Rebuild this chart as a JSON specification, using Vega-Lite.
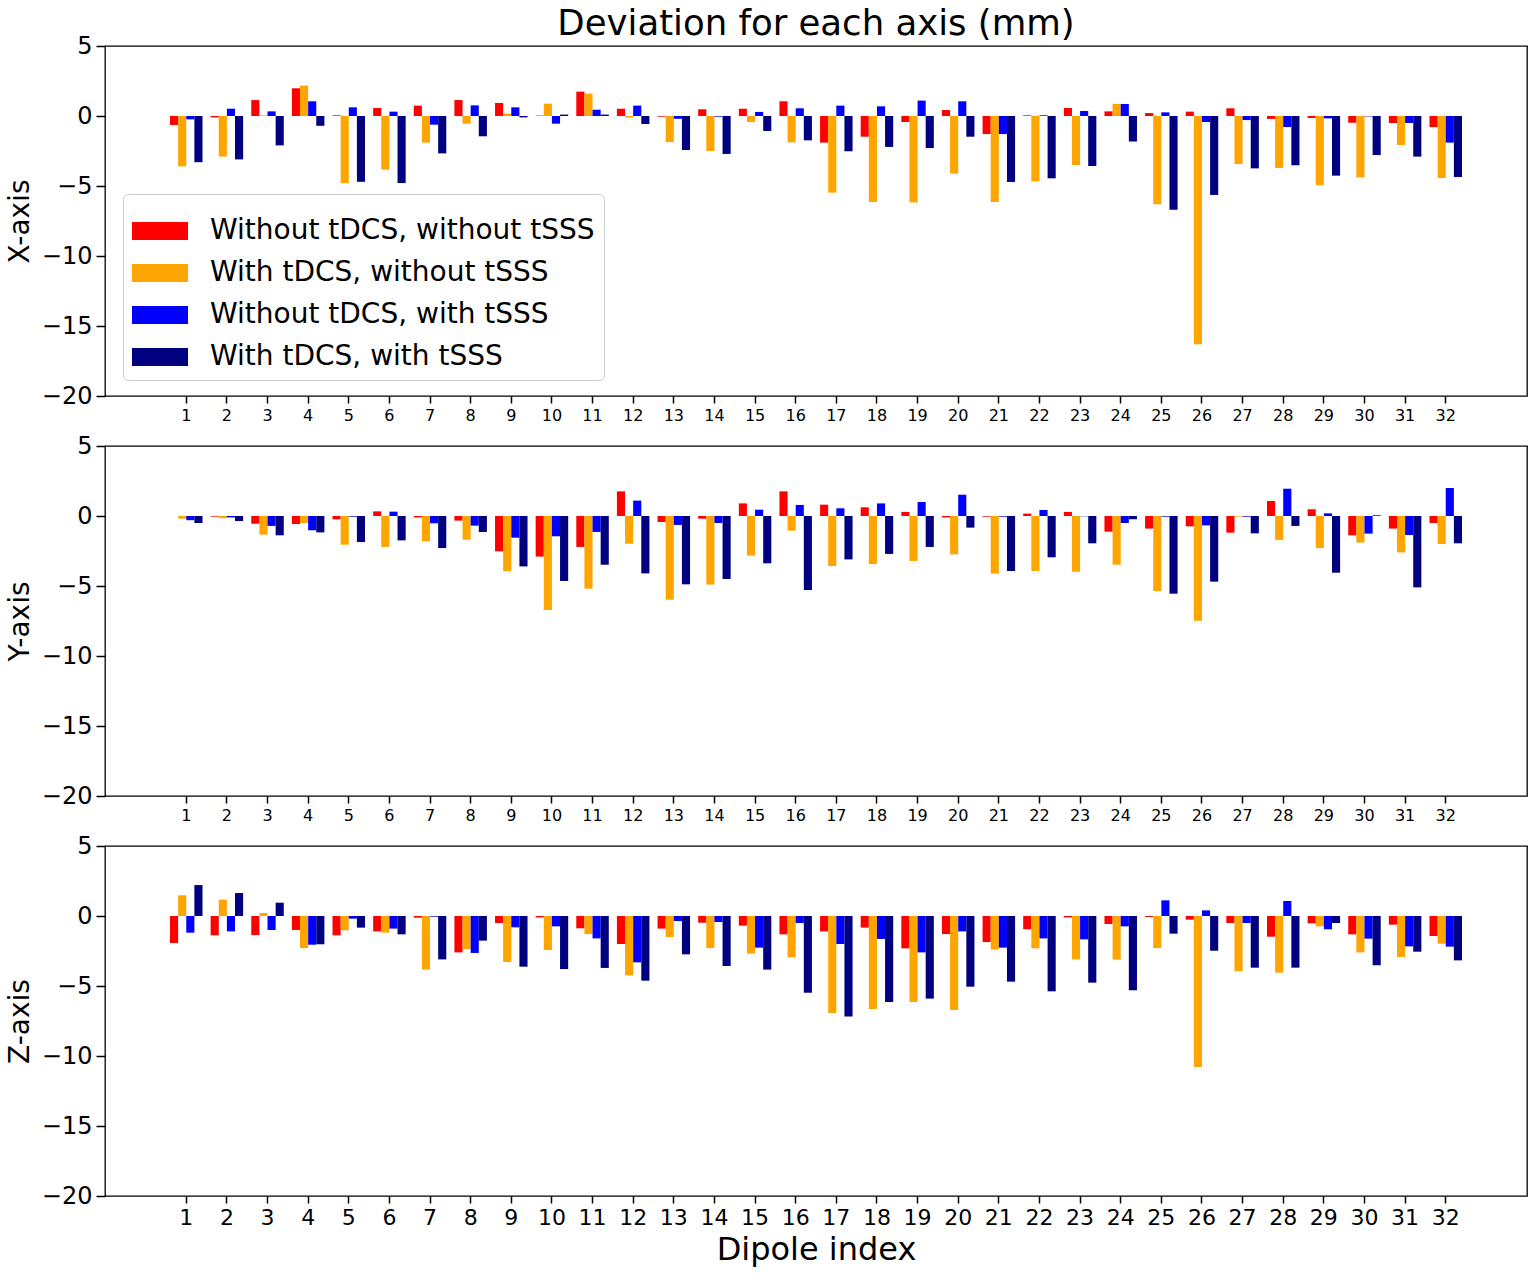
{
"$schema": "https://vega.github.io/schema/vega-lite/v6.json",
"config": {"font": "DejaVu Sans", "view": {"stroke": "#000", "strokeWidth": 1.3}, "axis": {"grid": false, "domain": false, "tickColor": "#000", "labelColor": "#000", "titleColor": "#000", "tickWidth": 1.5, "titleFontWeight": "normal"}},
"datasets": {"dev": [
{"axis":"X","dipole":1,"series":"A","value":-0.64},{"axis":"X","dipole":1,"series":"B","value":-3.6},{"axis":"X","dipole":1,"series":"C","value":-0.24},{"axis":"X","dipole":1,"series":"D","value":-3.3},
{"axis":"X","dipole":2,"series":"A","value":-0.1},{"axis":"X","dipole":2,"series":"B","value":-2.9},{"axis":"X","dipole":2,"series":"C","value":0.52},{"axis":"X","dipole":2,"series":"D","value":-3.1},
{"axis":"X","dipole":3,"series":"A","value":1.14},{"axis":"X","dipole":3,"series":"B","value":0.05},{"axis":"X","dipole":3,"series":"C","value":0.33},{"axis":"X","dipole":3,"series":"D","value":-2.1},
{"axis":"X","dipole":4,"series":"A","value":1.98},{"axis":"X","dipole":4,"series":"B","value":2.17},{"axis":"X","dipole":4,"series":"C","value":1.05},{"axis":"X","dipole":4,"series":"D","value":-0.7},
{"axis":"X","dipole":5,"series":"A","value":0.05},{"axis":"X","dipole":5,"series":"B","value":-4.8},{"axis":"X","dipole":5,"series":"C","value":0.62},{"axis":"X","dipole":5,"series":"D","value":-4.7},
{"axis":"X","dipole":6,"series":"A","value":0.57},{"axis":"X","dipole":6,"series":"B","value":-3.83},{"axis":"X","dipole":6,"series":"C","value":0.31},{"axis":"X","dipole":6,"series":"D","value":-4.79},
{"axis":"X","dipole":7,"series":"A","value":0.74},{"axis":"X","dipole":7,"series":"B","value":-1.9},{"axis":"X","dipole":7,"series":"C","value":-0.62},{"axis":"X","dipole":7,"series":"D","value":-2.67},
{"axis":"X","dipole":8,"series":"A","value":1.14},{"axis":"X","dipole":8,"series":"B","value":-0.55},{"axis":"X","dipole":8,"series":"C","value":0.76},{"axis":"X","dipole":8,"series":"D","value":-1.45},
{"axis":"X","dipole":9,"series":"A","value":0.93},{"axis":"X","dipole":9,"series":"B","value":0.17},{"axis":"X","dipole":9,"series":"C","value":0.62},{"axis":"X","dipole":9,"series":"D","value":-0.1},
{"axis":"X","dipole":10,"series":"A","value":0.03},{"axis":"X","dipole":10,"series":"B","value":0.88},{"axis":"X","dipole":10,"series":"C","value":-0.55},{"axis":"X","dipole":10,"series":"D","value":0.1},
{"axis":"X","dipole":11,"series":"A","value":1.74},{"axis":"X","dipole":11,"series":"B","value":1.6},{"axis":"X","dipole":11,"series":"C","value":0.45},{"axis":"X","dipole":11,"series":"D","value":0.1},
{"axis":"X","dipole":12,"series":"A","value":0.52},{"axis":"X","dipole":12,"series":"B","value":-0.1},{"axis":"X","dipole":12,"series":"C","value":0.74},{"axis":"X","dipole":12,"series":"D","value":-0.57},
{"axis":"X","dipole":13,"series":"A","value":-0.05},{"axis":"X","dipole":13,"series":"B","value":-1.86},{"axis":"X","dipole":13,"series":"C","value":-0.2},{"axis":"X","dipole":13,"series":"D","value":-2.43},
{"axis":"X","dipole":14,"series":"A","value":0.48},{"axis":"X","dipole":14,"series":"B","value":-2.5},{"axis":"X","dipole":14,"series":"C","value":-0.05},{"axis":"X","dipole":14,"series":"D","value":-2.71},
{"axis":"X","dipole":15,"series":"A","value":0.52},{"axis":"X","dipole":15,"series":"B","value":-0.43},{"axis":"X","dipole":15,"series":"C","value":0.29},{"axis":"X","dipole":15,"series":"D","value":-1.07},
{"axis":"X","dipole":16,"series":"A","value":1.05},{"axis":"X","dipole":16,"series":"B","value":-1.88},{"axis":"X","dipole":16,"series":"C","value":0.55},{"axis":"X","dipole":16,"series":"D","value":-1.74},
{"axis":"X","dipole":17,"series":"A","value":-1.9},{"axis":"X","dipole":17,"series":"B","value":-5.48},{"axis":"X","dipole":17,"series":"C","value":0.74},{"axis":"X","dipole":17,"series":"D","value":-2.52},
{"axis":"X","dipole":18,"series":"A","value":-1.48},{"axis":"X","dipole":18,"series":"B","value":-6.14},{"axis":"X","dipole":18,"series":"C","value":0.69},{"axis":"X","dipole":18,"series":"D","value":-2.21},
{"axis":"X","dipole":19,"series":"A","value":-0.43},{"axis":"X","dipole":19,"series":"B","value":-6.17},{"axis":"X","dipole":19,"series":"C","value":1.1},{"axis":"X","dipole":19,"series":"D","value":-2.29},
{"axis":"X","dipole":20,"series":"A","value":0.43},{"axis":"X","dipole":20,"series":"B","value":-4.12},{"axis":"X","dipole":20,"series":"C","value":1.05},{"axis":"X","dipole":20,"series":"D","value":-1.48},
{"axis":"X","dipole":21,"series":"A","value":-1.29},{"axis":"X","dipole":21,"series":"B","value":-6.14},{"axis":"X","dipole":21,"series":"C","value":-1.29},{"axis":"X","dipole":21,"series":"D","value":-4.71},
{"axis":"X","dipole":22,"series":"A","value":0.05},{"axis":"X","dipole":22,"series":"B","value":-4.67},{"axis":"X","dipole":22,"series":"C","value":0.05},{"axis":"X","dipole":22,"series":"D","value":-4.45},
{"axis":"X","dipole":23,"series":"A","value":0.57},{"axis":"X","dipole":23,"series":"B","value":-3.5},{"axis":"X","dipole":23,"series":"C","value":0.36},{"axis":"X","dipole":23,"series":"D","value":-3.57},
{"axis":"X","dipole":24,"series":"A","value":0.33},{"axis":"X","dipole":24,"series":"B","value":0.86},{"axis":"X","dipole":24,"series":"C","value":0.86},{"axis":"X","dipole":24,"series":"D","value":-1.83},
{"axis":"X","dipole":25,"series":"A","value":0.21},{"axis":"X","dipole":25,"series":"B","value":-6.31},{"axis":"X","dipole":25,"series":"C","value":0.26},{"axis":"X","dipole":25,"series":"D","value":-6.7},
{"axis":"X","dipole":26,"series":"A","value":0.31},{"axis":"X","dipole":26,"series":"B","value":-16.3},{"axis":"X","dipole":26,"series":"C","value":-0.43},{"axis":"X","dipole":26,"series":"D","value":-5.64},
{"axis":"X","dipole":27,"series":"A","value":0.55},{"axis":"X","dipole":27,"series":"B","value":-3.43},{"axis":"X","dipole":27,"series":"C","value":-0.29},{"axis":"X","dipole":27,"series":"D","value":-3.74},
{"axis":"X","dipole":28,"series":"A","value":-0.21},{"axis":"X","dipole":28,"series":"B","value":-3.71},{"axis":"X","dipole":28,"series":"C","value":-0.79},{"axis":"X","dipole":28,"series":"D","value":-3.52},
{"axis":"X","dipole":29,"series":"A","value":-0.14},{"axis":"X","dipole":29,"series":"B","value":-4.95},{"axis":"X","dipole":29,"series":"C","value":-0.17},{"axis":"X","dipole":29,"series":"D","value":-4.26},
{"axis":"X","dipole":30,"series":"A","value":-0.48},{"axis":"X","dipole":30,"series":"B","value":-4.38},{"axis":"X","dipole":30,"series":"C","value":-0.03},{"axis":"X","dipole":30,"series":"D","value":-2.79},
{"axis":"X","dipole":31,"series":"A","value":-0.5},{"axis":"X","dipole":31,"series":"B","value":-2.07},{"axis":"X","dipole":31,"series":"C","value":-0.5},{"axis":"X","dipole":31,"series":"D","value":-2.9},
{"axis":"X","dipole":32,"series":"A","value":-0.79},{"axis":"X","dipole":32,"series":"B","value":-4.43},{"axis":"X","dipole":32,"series":"C","value":-1.9},{"axis":"X","dipole":32,"series":"D","value":-4.36},
{"axis":"Y","dipole":1,"series":"A","value":0.0},{"axis":"Y","dipole":1,"series":"B","value":-0.19},{"axis":"Y","dipole":1,"series":"C","value":-0.3},{"axis":"Y","dipole":1,"series":"D","value":-0.5},
{"axis":"Y","dipole":2,"series":"A","value":-0.05},{"axis":"Y","dipole":2,"series":"B","value":-0.15},{"axis":"Y","dipole":2,"series":"C","value":-0.1},{"axis":"Y","dipole":2,"series":"D","value":-0.36},
{"axis":"Y","dipole":3,"series":"A","value":-0.55},{"axis":"Y","dipole":3,"series":"B","value":-1.33},{"axis":"Y","dipole":3,"series":"C","value":-0.71},{"axis":"Y","dipole":3,"series":"D","value":-1.38},
{"axis":"Y","dipole":4,"series":"A","value":-0.57},{"axis":"Y","dipole":4,"series":"B","value":-0.5},{"axis":"Y","dipole":4,"series":"C","value":-1.02},{"axis":"Y","dipole":4,"series":"D","value":-1.17},
{"axis":"Y","dipole":5,"series":"A","value":-0.24},{"axis":"Y","dipole":5,"series":"B","value":-2.05},{"axis":"Y","dipole":5,"series":"C","value":-0.05},{"axis":"Y","dipole":5,"series":"D","value":-1.86},
{"axis":"Y","dipole":6,"series":"A","value":0.33},{"axis":"Y","dipole":6,"series":"B","value":-2.21},{"axis":"Y","dipole":6,"series":"C","value":0.31},{"axis":"Y","dipole":6,"series":"D","value":-1.74},
{"axis":"Y","dipole":7,"series":"A","value":-0.1},{"axis":"Y","dipole":7,"series":"B","value":-1.81},{"axis":"Y","dipole":7,"series":"C","value":-0.52},{"axis":"Y","dipole":7,"series":"D","value":-2.29},
{"axis":"Y","dipole":8,"series":"A","value":-0.33},{"axis":"Y","dipole":8,"series":"B","value":-1.69},{"axis":"Y","dipole":8,"series":"C","value":-0.69},{"axis":"Y","dipole":8,"series":"D","value":-1.14},
{"axis":"Y","dipole":9,"series":"A","value":-2.52},{"axis":"Y","dipole":9,"series":"B","value":-3.95},{"axis":"Y","dipole":9,"series":"C","value":-1.55},{"axis":"Y","dipole":9,"series":"D","value":-3.6},
{"axis":"Y","dipole":10,"series":"A","value":-2.9},{"axis":"Y","dipole":10,"series":"B","value":-6.71},{"axis":"Y","dipole":10,"series":"C","value":-1.45},{"axis":"Y","dipole":10,"series":"D","value":-4.64},
{"axis":"Y","dipole":11,"series":"A","value":-2.21},{"axis":"Y","dipole":11,"series":"B","value":-5.19},{"axis":"Y","dipole":11,"series":"C","value":-1.14},{"axis":"Y","dipole":11,"series":"D","value":-3.48},
{"axis":"Y","dipole":12,"series":"A","value":1.76},{"axis":"Y","dipole":12,"series":"B","value":-1.98},{"axis":"Y","dipole":12,"series":"C","value":1.1},{"axis":"Y","dipole":12,"series":"D","value":-4.1},
{"axis":"Y","dipole":13,"series":"A","value":-0.43},{"axis":"Y","dipole":13,"series":"B","value":-5.98},{"axis":"Y","dipole":13,"series":"C","value":-0.64},{"axis":"Y","dipole":13,"series":"D","value":-4.88},
{"axis":"Y","dipole":14,"series":"A","value":-0.19},{"axis":"Y","dipole":14,"series":"B","value":-4.9},{"axis":"Y","dipole":14,"series":"C","value":-0.5},{"axis":"Y","dipole":14,"series":"D","value":-4.5},
{"axis":"Y","dipole":15,"series":"A","value":0.9},{"axis":"Y","dipole":15,"series":"B","value":-2.83},{"axis":"Y","dipole":15,"series":"C","value":0.45},{"axis":"Y","dipole":15,"series":"D","value":-3.38},
{"axis":"Y","dipole":16,"series":"A","value":1.76},{"axis":"Y","dipole":16,"series":"B","value":-1.05},{"axis":"Y","dipole":16,"series":"C","value":0.79},{"axis":"Y","dipole":16,"series":"D","value":-5.29},
{"axis":"Y","dipole":17,"series":"A","value":0.81},{"axis":"Y","dipole":17,"series":"B","value":-3.57},{"axis":"Y","dipole":17,"series":"C","value":0.55},{"axis":"Y","dipole":17,"series":"D","value":-3.1},
{"axis":"Y","dipole":18,"series":"A","value":0.62},{"axis":"Y","dipole":18,"series":"B","value":-3.43},{"axis":"Y","dipole":18,"series":"C","value":0.9},{"axis":"Y","dipole":18,"series":"D","value":-2.71},
{"axis":"Y","dipole":19,"series":"A","value":0.29},{"axis":"Y","dipole":19,"series":"B","value":-3.21},{"axis":"Y","dipole":19,"series":"C","value":1.0},{"axis":"Y","dipole":19,"series":"D","value":-2.21},
{"axis":"Y","dipole":20,"series":"A","value":-0.1},{"axis":"Y","dipole":20,"series":"B","value":-2.74},{"axis":"Y","dipole":20,"series":"C","value":1.52},{"axis":"Y","dipole":20,"series":"D","value":-0.83},
{"axis":"Y","dipole":21,"series":"A","value":-0.05},{"axis":"Y","dipole":21,"series":"B","value":-4.12},{"axis":"Y","dipole":21,"series":"C","value":-0.05},{"axis":"Y","dipole":21,"series":"D","value":-3.93},
{"axis":"Y","dipole":22,"series":"A","value":0.17},{"axis":"Y","dipole":22,"series":"B","value":-3.93},{"axis":"Y","dipole":22,"series":"C","value":0.43},{"axis":"Y","dipole":22,"series":"D","value":-2.95},
{"axis":"Y","dipole":23,"series":"A","value":0.29},{"axis":"Y","dipole":23,"series":"B","value":-3.98},{"axis":"Y","dipole":23,"series":"C","value":-0.02},{"axis":"Y","dipole":23,"series":"D","value":-1.95},
{"axis":"Y","dipole":24,"series":"A","value":-1.12},{"axis":"Y","dipole":24,"series":"B","value":-3.48},{"axis":"Y","dipole":24,"series":"C","value":-0.5},{"axis":"Y","dipole":24,"series":"D","value":-0.24},
{"axis":"Y","dipole":25,"series":"A","value":-0.9},{"axis":"Y","dipole":25,"series":"B","value":-5.36},{"axis":"Y","dipole":25,"series":"C","value":-0.05},{"axis":"Y","dipole":25,"series":"D","value":-5.55},
{"axis":"Y","dipole":26,"series":"A","value":-0.74},{"axis":"Y","dipole":26,"series":"B","value":-7.48},{"axis":"Y","dipole":26,"series":"C","value":-0.67},{"axis":"Y","dipole":26,"series":"D","value":-4.69},
{"axis":"Y","dipole":27,"series":"A","value":-1.19},{"axis":"Y","dipole":27,"series":"B","value":-0.05},{"axis":"Y","dipole":27,"series":"C","value":-0.05},{"axis":"Y","dipole":27,"series":"D","value":-1.24},
{"axis":"Y","dipole":28,"series":"A","value":1.07},{"axis":"Y","dipole":28,"series":"B","value":-1.71},{"axis":"Y","dipole":28,"series":"C","value":1.95},{"axis":"Y","dipole":28,"series":"D","value":-0.71},
{"axis":"Y","dipole":29,"series":"A","value":0.48},{"axis":"Y","dipole":29,"series":"B","value":-2.29},{"axis":"Y","dipole":29,"series":"C","value":0.19},{"axis":"Y","dipole":29,"series":"D","value":-4.05},
{"axis":"Y","dipole":30,"series":"A","value":-1.38},{"axis":"Y","dipole":30,"series":"B","value":-1.9},{"axis":"Y","dipole":30,"series":"C","value":-1.26},{"axis":"Y","dipole":30,"series":"D","value":0.05},
{"axis":"Y","dipole":31,"series":"A","value":-0.9},{"axis":"Y","dipole":31,"series":"B","value":-2.6},{"axis":"Y","dipole":31,"series":"C","value":-1.36},{"axis":"Y","dipole":31,"series":"D","value":-5.1},
{"axis":"Y","dipole":32,"series":"A","value":-0.5},{"axis":"Y","dipole":32,"series":"B","value":-2.0},{"axis":"Y","dipole":32,"series":"C","value":2.0},{"axis":"Y","dipole":32,"series":"D","value":-1.95},
{"axis":"Z","dipole":1,"series":"A","value":-1.93},{"axis":"Z","dipole":1,"series":"B","value":1.48},{"axis":"Z","dipole":1,"series":"C","value":-1.19},{"axis":"Z","dipole":1,"series":"D","value":2.21},
{"axis":"Z","dipole":2,"series":"A","value":-1.38},{"axis":"Z","dipole":2,"series":"B","value":1.17},{"axis":"Z","dipole":2,"series":"C","value":-1.1},{"axis":"Z","dipole":2,"series":"D","value":1.64},
{"axis":"Z","dipole":3,"series":"A","value":-1.36},{"axis":"Z","dipole":3,"series":"B","value":0.21},{"axis":"Z","dipole":3,"series":"C","value":-1.0},{"axis":"Z","dipole":3,"series":"D","value":0.95},
{"axis":"Z","dipole":4,"series":"A","value":-1.0},{"axis":"Z","dipole":4,"series":"B","value":-2.29},{"axis":"Z","dipole":4,"series":"C","value":-2.05},{"axis":"Z","dipole":4,"series":"D","value":-2.02},
{"axis":"Z","dipole":5,"series":"A","value":-1.38},{"axis":"Z","dipole":5,"series":"B","value":-1.02},{"axis":"Z","dipole":5,"series":"C","value":-0.19},{"axis":"Z","dipole":5,"series":"D","value":-0.83},
{"axis":"Z","dipole":6,"series":"A","value":-1.1},{"axis":"Z","dipole":6,"series":"B","value":-1.19},{"axis":"Z","dipole":6,"series":"C","value":-0.9},{"axis":"Z","dipole":6,"series":"D","value":-1.31},
{"axis":"Z","dipole":7,"series":"A","value":-0.12},{"axis":"Z","dipole":7,"series":"B","value":-3.83},{"axis":"Z","dipole":7,"series":"C","value":-0.05},{"axis":"Z","dipole":7,"series":"D","value":-3.1},
{"axis":"Z","dipole":8,"series":"A","value":-2.6},{"axis":"Z","dipole":8,"series":"B","value":-2.36},{"axis":"Z","dipole":8,"series":"C","value":-2.64},{"axis":"Z","dipole":8,"series":"D","value":-1.76},
{"axis":"Z","dipole":9,"series":"A","value":-0.5},{"axis":"Z","dipole":9,"series":"B","value":-3.29},{"axis":"Z","dipole":9,"series":"C","value":-0.81},{"axis":"Z","dipole":9,"series":"D","value":-3.62},
{"axis":"Z","dipole":10,"series":"A","value":-0.1},{"axis":"Z","dipole":10,"series":"B","value":-2.43},{"axis":"Z","dipole":10,"series":"C","value":-0.74},{"axis":"Z","dipole":10,"series":"D","value":-3.79},
{"axis":"Z","dipole":11,"series":"A","value":-0.88},{"axis":"Z","dipole":11,"series":"B","value":-1.29},{"axis":"Z","dipole":11,"series":"C","value":-1.6},{"axis":"Z","dipole":11,"series":"D","value":-3.71},
{"axis":"Z","dipole":12,"series":"A","value":-2.0},{"axis":"Z","dipole":12,"series":"B","value":-4.24},{"axis":"Z","dipole":12,"series":"C","value":-3.31},{"axis":"Z","dipole":12,"series":"D","value":-4.62},
{"axis":"Z","dipole":13,"series":"A","value":-0.9},{"axis":"Z","dipole":13,"series":"B","value":-1.5},{"axis":"Z","dipole":13,"series":"C","value":-0.36},{"axis":"Z","dipole":13,"series":"D","value":-2.74},
{"axis":"Z","dipole":14,"series":"A","value":-0.48},{"axis":"Z","dipole":14,"series":"B","value":-2.29},{"axis":"Z","dipole":14,"series":"C","value":-0.43},{"axis":"Z","dipole":14,"series":"D","value":-3.57},
{"axis":"Z","dipole":15,"series":"A","value":-0.69},{"axis":"Z","dipole":15,"series":"B","value":-2.69},{"axis":"Z","dipole":15,"series":"C","value":-2.26},{"axis":"Z","dipole":15,"series":"D","value":-3.83},
{"axis":"Z","dipole":16,"series":"A","value":-1.31},{"axis":"Z","dipole":16,"series":"B","value":-2.95},{"axis":"Z","dipole":16,"series":"C","value":-0.5},{"axis":"Z","dipole":16,"series":"D","value":-5.48},
{"axis":"Z","dipole":17,"series":"A","value":-1.1},{"axis":"Z","dipole":17,"series":"B","value":-6.93},{"axis":"Z","dipole":17,"series":"C","value":-2.0},{"axis":"Z","dipole":17,"series":"D","value":-7.17},
{"axis":"Z","dipole":18,"series":"A","value":-0.83},{"axis":"Z","dipole":18,"series":"B","value":-6.64},{"axis":"Z","dipole":18,"series":"C","value":-1.64},{"axis":"Z","dipole":18,"series":"D","value":-6.14},
{"axis":"Z","dipole":19,"series":"A","value":-2.31},{"axis":"Z","dipole":19,"series":"B","value":-6.14},{"axis":"Z","dipole":19,"series":"C","value":-2.6},{"axis":"Z","dipole":19,"series":"D","value":-5.9},
{"axis":"Z","dipole":20,"series":"A","value":-1.29},{"axis":"Z","dipole":20,"series":"B","value":-6.71},{"axis":"Z","dipole":20,"series":"C","value":-1.1},{"axis":"Z","dipole":20,"series":"D","value":-5.05},
{"axis":"Z","dipole":21,"series":"A","value":-1.86},{"axis":"Z","dipole":21,"series":"B","value":-2.4},{"axis":"Z","dipole":21,"series":"C","value":-2.26},{"axis":"Z","dipole":21,"series":"D","value":-4.69},
{"axis":"Z","dipole":22,"series":"A","value":-0.95},{"axis":"Z","dipole":22,"series":"B","value":-2.31},{"axis":"Z","dipole":22,"series":"C","value":-1.6},{"axis":"Z","dipole":22,"series":"D","value":-5.38},
{"axis":"Z","dipole":23,"series":"A","value":-0.1},{"axis":"Z","dipole":23,"series":"B","value":-3.1},{"axis":"Z","dipole":23,"series":"C","value":-1.67},{"axis":"Z","dipole":23,"series":"D","value":-4.76},
{"axis":"Z","dipole":24,"series":"A","value":-0.57},{"axis":"Z","dipole":24,"series":"B","value":-3.12},{"axis":"Z","dipole":24,"series":"C","value":-0.74},{"axis":"Z","dipole":24,"series":"D","value":-5.31},
{"axis":"Z","dipole":25,"series":"A","value":-0.07},{"axis":"Z","dipole":25,"series":"B","value":-2.29},{"axis":"Z","dipole":25,"series":"C","value":1.12},{"axis":"Z","dipole":25,"series":"D","value":-1.26},
{"axis":"Z","dipole":26,"series":"A","value":-0.26},{"axis":"Z","dipole":26,"series":"B","value":-10.79},{"axis":"Z","dipole":26,"series":"C","value":0.4},{"axis":"Z","dipole":26,"series":"D","value":-2.48},
{"axis":"Z","dipole":27,"series":"A","value":-0.5},{"axis":"Z","dipole":27,"series":"B","value":-3.95},{"axis":"Z","dipole":27,"series":"C","value":-0.5},{"axis":"Z","dipole":27,"series":"D","value":-3.69},
{"axis":"Z","dipole":28,"series":"A","value":-1.48},{"axis":"Z","dipole":28,"series":"B","value":-4.05},{"axis":"Z","dipole":28,"series":"C","value":1.07},{"axis":"Z","dipole":28,"series":"D","value":-3.69},
{"axis":"Z","dipole":29,"series":"A","value":-0.52},{"axis":"Z","dipole":29,"series":"B","value":-0.74},{"axis":"Z","dipole":29,"series":"C","value":-0.95},{"axis":"Z","dipole":29,"series":"D","value":-0.5},
{"axis":"Z","dipole":30,"series":"A","value":-1.31},{"axis":"Z","dipole":30,"series":"B","value":-2.6},{"axis":"Z","dipole":30,"series":"C","value":-1.62},{"axis":"Z","dipole":30,"series":"D","value":-3.52},
{"axis":"Z","dipole":31,"series":"A","value":-0.62},{"axis":"Z","dipole":31,"series":"B","value":-2.93},{"axis":"Z","dipole":31,"series":"C","value":-2.17},{"axis":"Z","dipole":31,"series":"D","value":-2.55},
{"axis":"Z","dipole":32,"series":"A","value":-1.43},{"axis":"Z","dipole":32,"series":"B","value":-1.98},{"axis":"Z","dipole":32,"series":"C","value":-2.19},{"axis":"Z","dipole":32,"series":"D","value":-3.17}
]},
"data": {"name": "dev"},
"spacing": 9,
"resolve": {"legend": {"color": "independent"}},
"vconcat": [
{
"width": 1422, "height": 350,
"title": {"text": "Deviation for each axis (mm)", "fontSize": 35.5, "fontWeight": "normal", "anchor": "middle", "frame": "group", "offset": -8, "color": "#000"},
"transform": [{"filter": "datum.axis === 'X'"}],
"mark": {"type": "bar"},
"encoding": {
"x": {"field": "dipole", "type": "ordinal", "scale": {"domain": [0,1,2,3,4,5,6,7,8,9,10,11,12,13,14,15,16,17,18,19,20,21,22,23,24,25,26,27,28,29,30,31,32,33], "paddingInner": 0.2, "paddingOuter": 0.6}, "axis": {"title": null, "values": [1,2,3,4,5,6,7,8,9,10,11,12,13,14,15,16,17,18,19,20,21,22,23,24,25,26,27,28,29,30,31,32], "labelAngle": 0, "labelFontSize": 16, "labelPadding": 4, "tickSize": 7}},
"xOffset": {"field": "series", "type": "nominal", "scale": {"domain": ["A", "B", "C", "D"]}},
"y": {"field": "value", "type": "quantitative", "scale": {"domain": [-20, 5]}, "axis": {"title": "X-axis", "values": [-20, -15, -10, -5, 0, 5], "labelFontSize": 24, "titleFontSize": 28, "titlePadding": 7, "labelPadding": 4, "tickSize": 9}},
"color": {"field": "series", "type": "nominal", "scale": {"domain": ["A", "B", "C", "D"], "range": ["#ff0000", "#ffa500", "#0000ff", "#000080"]},
"legend": {"orient": "none", "legendX": 18, "legendY": 148, "title": null, "labelExpr": "{'A': 'Without tDCS, without tSSS', 'B': 'With tDCS, without tSSS', 'C': 'Without tDCS, with tSSS', 'D': 'With tDCS, with tSSS'}[datum.label]", "labelFontSize": 28, "labelColor": "#000", "symbolType": "M-1,-0.32H1V0.32H-1Z", "symbolSize": 3136, "symbolStrokeWidth": 0, "symbolOpacity": 1, "strokeColor": "#cccccc", "cornerRadius": 5, "padding": 9, "fillColor": "white", "labelOffset": 22, "rowPadding": 0, "labelLimit": 500}}
}
},
{
"width": 1422, "height": 350,
"transform": [{"filter": "datum.axis === 'Y'"}],
"mark": {"type": "bar"},
"encoding": {
"x": {"field": "dipole", "type": "ordinal", "scale": {"domain": [0,1,2,3,4,5,6,7,8,9,10,11,12,13,14,15,16,17,18,19,20,21,22,23,24,25,26,27,28,29,30,31,32,33], "paddingInner": 0.2, "paddingOuter": 0.6}, "axis": {"title": null, "values": [1,2,3,4,5,6,7,8,9,10,11,12,13,14,15,16,17,18,19,20,21,22,23,24,25,26,27,28,29,30,31,32], "labelAngle": 0, "labelFontSize": 16, "labelPadding": 4, "tickSize": 7}},
"xOffset": {"field": "series", "type": "nominal", "scale": {"domain": ["A", "B", "C", "D"]}},
"y": {"field": "value", "type": "quantitative", "scale": {"domain": [-20, 5]}, "axis": {"title": "Y-axis", "values": [-20, -15, -10, -5, 0, 5], "labelFontSize": 24, "titleFontSize": 28, "titlePadding": 7, "labelPadding": 4, "tickSize": 9}},
"color": {"field": "series", "type": "nominal", "scale": {"domain": ["A", "B", "C", "D"], "range": ["#ff0000", "#ffa500", "#0000ff", "#000080"]}, "legend": null}
}
},
{
"width": 1422, "height": 350,
"transform": [{"filter": "datum.axis === 'Z'"}],
"mark": {"type": "bar"},
"encoding": {
"x": {"field": "dipole", "type": "ordinal", "scale": {"domain": [0,1,2,3,4,5,6,7,8,9,10,11,12,13,14,15,16,17,18,19,20,21,22,23,24,25,26,27,28,29,30,31,32,33], "paddingInner": 0.2, "paddingOuter": 0.6}, "axis": {"title": "Dipole index", "values": [1,2,3,4,5,6,7,8,9,10,11,12,13,14,15,16,17,18,19,20,21,22,23,24,25,26,27,28,29,30,31,32], "titleFontSize": 32, "titleFontWeight": "normal", "titlePadding": 6, "labelAngle": 0, "labelFontSize": 22, "labelPadding": 4, "tickSize": 7}},
"xOffset": {"field": "series", "type": "nominal", "scale": {"domain": ["A", "B", "C", "D"]}},
"y": {"field": "value", "type": "quantitative", "scale": {"domain": [-20, 5]}, "axis": {"title": "Z-axis", "values": [-20, -15, -10, -5, 0, 5], "labelFontSize": 24, "titleFontSize": 28, "titlePadding": 7, "labelPadding": 4, "tickSize": 9}},
"color": {"field": "series", "type": "nominal", "scale": {"domain": ["A", "B", "C", "D"], "range": ["#ff0000", "#ffa500", "#0000ff", "#000080"]}, "legend": null}
}
}
]
}
